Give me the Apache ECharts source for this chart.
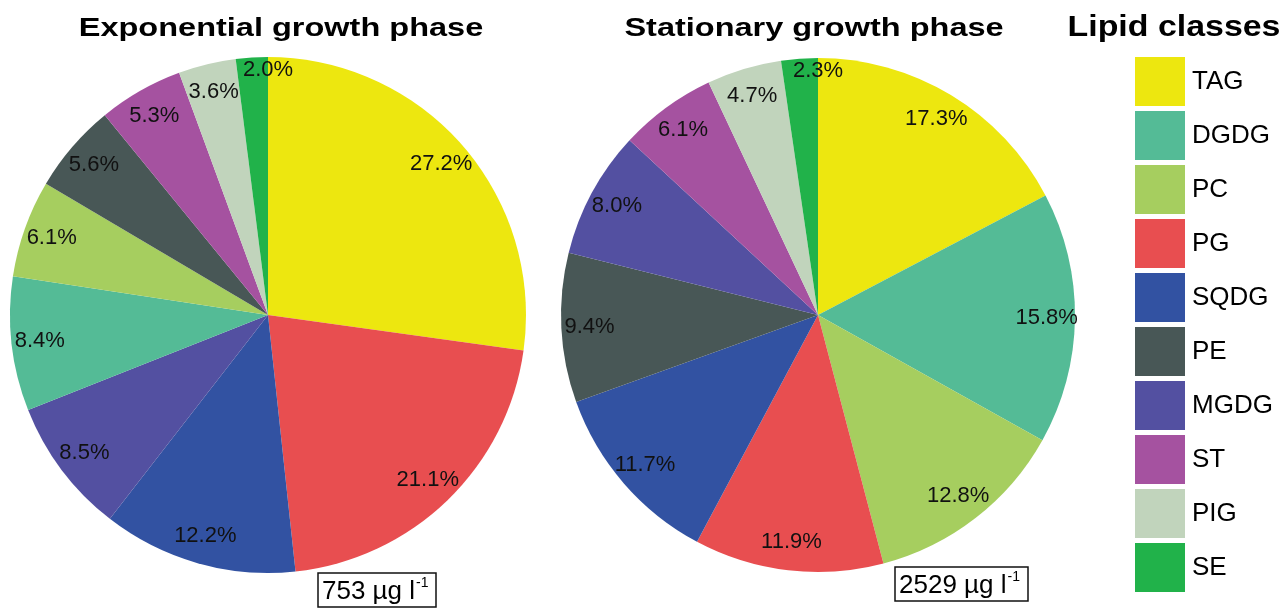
<!DOCTYPE html>
<html>
<head>
<meta charset="utf-8">
<script src="https://cdn.jsdelivr.net/npm/echarts@6/dist/echarts.min.js"></script>
<style>
  html, body { margin: 0; padding: 0; background: #fff; }
  #chart { width: 1282px; height: 611px; }
</style>
</head>
<body>
<div id="chart"></div>
<script>
// Lipid classes, in legend order
const classes = ['TAG', 'DGDG', 'PC', 'PG', 'SQDG', 'PE', 'MGDG', 'ST', 'PIG', 'SE'];
const classColors = ['#ede70f', '#54bb96', '#a6ce5f', '#e84e50', '#3252a2', '#485756', '#5350a1', '#a552a0', '#c1d4bc', '#21b24a'];

// Share of total lipids (%), slices listed clockwise from 12 o'clock
const expNames = ['TAG', 'PG', 'SQDG', 'MGDG', 'DGDG', 'PC', 'PE', 'ST', 'PIG', 'SE'];
const expValues = [27.2, 21.1, 12.2, 8.5, 8.4, 6.1, 5.6, 5.3, 3.6, 2.0];
const statNames = ['TAG', 'DGDG', 'PC', 'PG', 'SQDG', 'PE', 'MGDG', 'ST', 'PIG', 'SE'];
const statValues = [17.3, 15.8, 12.8, 11.9, 11.7, 9.4, 8.0, 6.1, 4.7, 2.3];

// Total lipid content per phase
const expTotal = '753';
const statTotal = '2529';

const FONT = '"Liberation Sans", Arial, Helvetica, sans-serif';
const colorOf = name => classColors[classes.indexOf(name)];

// where the percentage labels sit, as a fraction of the pie radius
const LABEL_RADIUS = 0.89;
// slices thinner than this (%) get their label on their trailing edge, nearer the rim
const NARROW = 3;
const NARROW_RADIUS = 0.95;

function pieSeries(names, values, center, r) {
  return {
    type: 'pie',
    center: center,
    radius: [0, r],
    startAngle: 90,
    clockwise: true,
    animation: false,
    data: names.map((n, i) => ({ name: n, value: values[i], itemStyle: { color: colorOf(n) } })),
    label: { show: false },
    labelLine: { show: false },
    emphasis: { disabled: true }
  };
}

// Percentage labels placed on a polar grid laid over each pie (0..100 around the circle)
function labelSeries(values, polarIndex) {
  const total = values.reduce((a, b) => a + b, 0);
  let acc = 0;
  const pts = values.map(v => {
    const narrow = v < NARROW;
    const at = (narrow ? acc + v : acc + v / 2) / total * 100;
    acc += v;
    return [narrow ? NARROW_RADIUS : LABEL_RADIUS, at, v];
  });
  return {
    type: 'scatter',
    coordinateSystem: 'polar',
    polarIndex: polarIndex,
    z: 5,
    silent: true,
    symbolSize: 1,
    itemStyle: { color: 'rgba(0,0,0,0)', opacity: 1 },
    data: pts,
    label: {
      show: true,
      position: 'inside',
      formatter: p => p.data[2].toFixed(1) + '%',
      fontFamily: FONT,
      fontSize: 22,
      color: '#111',
      opacity: 1
    }
  };
}

function hiddenAxis(extra) {
  return Object.assign({
    show: false,
    axisLine: { show: false },
    axisTick: { show: false },
    axisLabel: { show: false },
    splitLine: { show: false }
  }, extra);
}

function totalBox(value, left, top) {
  return {
    text: '{m|' + value + ' \u00b5g l}{s|-1}',
    left: left,
    top: top,
    padding: [3, 8, 3, 4],
    borderColor: '#111',
    borderWidth: 1.5,
    textStyle: {
      fontWeight: 'normal',
      rich: {
        m: { fontFamily: FONT, fontSize: 26, fontWeight: 'normal', color: '#000', lineHeight: 31 },
        s: { fontFamily: FONT, fontSize: 14, fontWeight: 'normal', color: '#000', verticalAlign: 'top', lineHeight: 31, padding: [0, 0, 14, 1] }
      }
    }
  };
}

function heading(text, x, y, size, scaleX) {
  return {
    type: 'text',
    x: x,
    y: y,
    scaleX: scaleX,
    style: {
      text: text,
      font: 'bold ' + size + 'px ' + FONT,
      fill: '#000',
      align: 'center',
      verticalAlign: 'middle'
    }
  };
}

const chart = echarts.init(document.getElementById('chart'), null, { renderer: 'canvas' });

chart.setOption({
  backgroundColor: '#fff',
  animation: false,
  title: [
    totalBox(expTotal, 318, 573),
    totalBox(statTotal, 895, 567)
  ],
  graphic: [
    heading('Exponential growth phase', 281, 29, 25, 1.3),
    heading('Stationary growth phase', 814, 29, 25, 1.3),
    heading('Lipid classes', 1174, 28, 30, 1.13)
  ],
  legend: {
    orient: 'vertical',
    left: 1135,
    top: 57,
    padding: 0,
    itemWidth: 50,
    itemHeight: 49,
    itemGap: 5,
    icon: 'rect',
    selectedMode: false,
    data: classes.map(n => ({ name: n, itemStyle: { color: colorOf(n) } })),
    textStyle: { fontFamily: FONT, fontSize: 26, color: '#000', padding: [8, 0, 0, 2] }
  },
  polar: [
    { center: [268, 315], radius: 258 },
    { center: [818, 315], radius: 257 }
  ],
  angleAxis: [
    hiddenAxis({ polarIndex: 0, type: 'value', min: 0, max: 100, startAngle: 90, clockwise: true }),
    hiddenAxis({ polarIndex: 1, type: 'value', min: 0, max: 100, startAngle: 90, clockwise: true })
  ],
  radiusAxis: [
    hiddenAxis({ polarIndex: 0, type: 'value', min: 0, max: 1 }),
    hiddenAxis({ polarIndex: 1, type: 'value', min: 0, max: 1 })
  ],
  series: [
    pieSeries(expNames, expValues, [268, 315], 258),
    pieSeries(statNames, statValues, [818, 315], 257),
    labelSeries(expValues, 0),
    labelSeries(statValues, 1)
  ]
});
</script>
</body>
</html>
